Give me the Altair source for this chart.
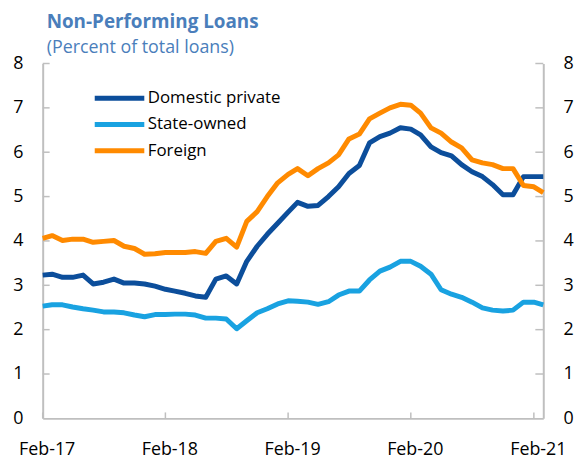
import altair as alt
import pandas as pd

# ---- data (monthly, Feb-2017 .. Mar-2021) ----
start_month = "2017-02-01"
n_months = 50
series_names = ["Domestic private", "State-owned", "Foreign"]
series_colors = ["#0C4E9B", "#19A2E1", "#FF8A00"]

domestic_private = [3.23, 3.25, 3.18, 3.18, 3.23, 3.03, 3.07, 3.14, 3.05, 3.05,
                    3.03, 2.98, 2.91, 2.87, 2.82, 2.76, 2.73, 3.14, 3.21, 3.03,
                    3.54, 3.88, 4.15, 4.40, 4.65, 4.87, 4.78, 4.80, 5.00, 5.22,
                    5.52, 5.70, 6.21, 6.35, 6.43, 6.55, 6.52, 6.39, 6.12, 5.99,
                    5.92, 5.72, 5.56, 5.45, 5.27, 5.04, 5.04, 5.45, 5.45, 5.45]
state_owned = [2.53, 2.56, 2.56, 2.51, 2.47, 2.44, 2.40, 2.40, 2.38, 2.33,
               2.29, 2.34, 2.34, 2.35, 2.35, 2.33, 2.26, 2.26, 2.24, 2.02,
               2.20, 2.38, 2.47, 2.58, 2.65, 2.64, 2.62, 2.57, 2.63, 2.78,
               2.87, 2.87, 3.12, 3.32, 3.41, 3.54, 3.54, 3.43, 3.25, 2.90,
               2.80, 2.73, 2.62, 2.49, 2.44, 2.42, 2.44, 2.62, 2.62, 2.56]
foreign = [4.06, 4.12, 4.01, 4.04, 4.04, 3.97, 3.99, 4.01, 3.88, 3.83,
           3.70, 3.71, 3.74, 3.74, 3.74, 3.76, 3.72, 3.99, 4.06, 3.86,
           4.44, 4.66, 5.00, 5.31, 5.50, 5.63, 5.47, 5.63, 5.76, 5.94,
           6.30, 6.41, 6.75, 6.88, 7.00, 7.08, 7.06, 6.88, 6.55, 6.43,
           6.23, 6.10, 5.83, 5.76, 5.72, 5.63, 5.63, 5.25, 5.22, 5.09]

y_ticks = [0, 1, 2, 3, 4, 5, 6, 7, 8]
x_tick_years = [2017, 2018, 2019, 2020, 2021]

title_text = "Non-Performing Loans"
subtitle_text = "(Percent of total loans)"

# ---- tables ----
months = pd.date_range(start_month, periods=n_months, freq="MS")
rows = []
for name, vals in zip(series_names, [domestic_private, state_owned, foreign]):
    for d, v in zip(months, vals):
        rows.append({"date": d, "value": v, "series": name})
df = pd.DataFrame(rows)

ytick_df = pd.DataFrame({"v": [t for t in y_ticks if t > 0]})
xtick_df = pd.DataFrame({"d": [pd.Timestamp(year=y, month=2, day=1) for y in x_tick_years]})

W, H = 505, 358
FONT = "Open Sans"
AXIS_GRAY = "#BFBFBF"
TITLE_BLUE = "#4A7EBB"

x_scale = alt.Scale(
    domain=[alt.DateTime(year=2017, month=2, date=1), alt.DateTime(year=2021, month=3, date=1)],
    nice=False,
)
y_scale = alt.Scale(domain=[0, 8], nice=False, zero=True)

x_axis = alt.Axis(
    values=[alt.DateTime(year=y, month=2, date=1) for y in x_tick_years],
    format="%b-%y", ticks=False, grid=False, title=None,
    domainColor=AXIS_GRAY, domainWidth=2,
    labelFont=FONT, labelFontSize=18, labelColor="black", labelPadding=22, labelOffset=4,
    labelFlush=False, labelOverlap=False,
)

lines = alt.Chart(df).mark_line(strokeWidth=5, strokeJoin="round", strokeCap="butt").encode(
    x=alt.X("date:T", scale=x_scale, axis=x_axis),
    y=alt.Y("value:Q", scale=y_scale, axis=None),
    color=alt.Color(
        "series:N",
        scale=alt.Scale(domain=series_names, range=series_colors),
        sort=series_names,
        legend=alt.Legend(
            title=None, orient="none", legendX=50, legendY=24, direction="vertical",
            symbolType="stroke", symbolSize=2500, symbolStrokeWidth=5,
            clipHeight=22, rowPadding=4.5, padding=0, labelOffset=1,
            labelFont=FONT, labelFontSize=17, labelColor="black", labelLimit=400,
        ),
    ),
)

def y_axis(orient):
    return alt.Axis(
        orient=orient, values=y_ticks, ticks=False, grid=False, title=None,
        domainColor=AXIS_GRAY, domainWidth=2,
        labelFont=FONT, labelFontSize=18, labelColor="black", labelPadding=20,
        labelFlush=False, labelOverlap=False,
    )

left_ticks = alt.Chart(ytick_df).mark_rule(color=AXIS_GRAY, strokeWidth=1.5).encode(
    y=alt.Y("v:Q", scale=y_scale, axis=y_axis("left")),
    x=alt.value(0), x2=alt.value(7),
)
right_ticks = alt.Chart(ytick_df).mark_rule(color=AXIS_GRAY, strokeWidth=1.5).encode(
    y=alt.Y("v:Q", scale=y_scale, axis=y_axis("right")),
    x=alt.value(W - 8), x2=alt.value(W),
)
bottom_ticks = alt.Chart(xtick_df).mark_rule(color=AXIS_GRAY, strokeWidth=1.5).encode(
    x=alt.X("d:T", scale=x_scale),
    y=alt.value(H - 6), y2=alt.value(H),
)

title = alt.Chart(pd.DataFrame({"t": [title_text]})).mark_text(
    align="left", baseline="alphabetic", font=FONT, fontSize=19, fontWeight="bold",
    color=TITLE_BLUE,
).encode(text="t:N", x=alt.value(4), y=alt.value(-36))
subtitle = alt.Chart(pd.DataFrame({"t": [subtitle_text]})).mark_text(
    align="left", baseline="alphabetic", font=FONT, fontSize=18, color=TITLE_BLUE,
).encode(text="t:N", x=alt.value(4), y=alt.value(-11))

chart = alt.layer(
    left_ticks, right_ticks, bottom_ticks, lines, title, subtitle
).resolve_axis(y="independent").properties(
    width=W, height=H,
    autosize=alt.AutoSizeParams(type="none"),
    padding={"left": 35, "top": 54, "right": 32, "bottom": 40},
    background="white",
).configure_view(stroke=None)

chart.save("out.html", embed_options={"renderer": "svg", "actions": False})
